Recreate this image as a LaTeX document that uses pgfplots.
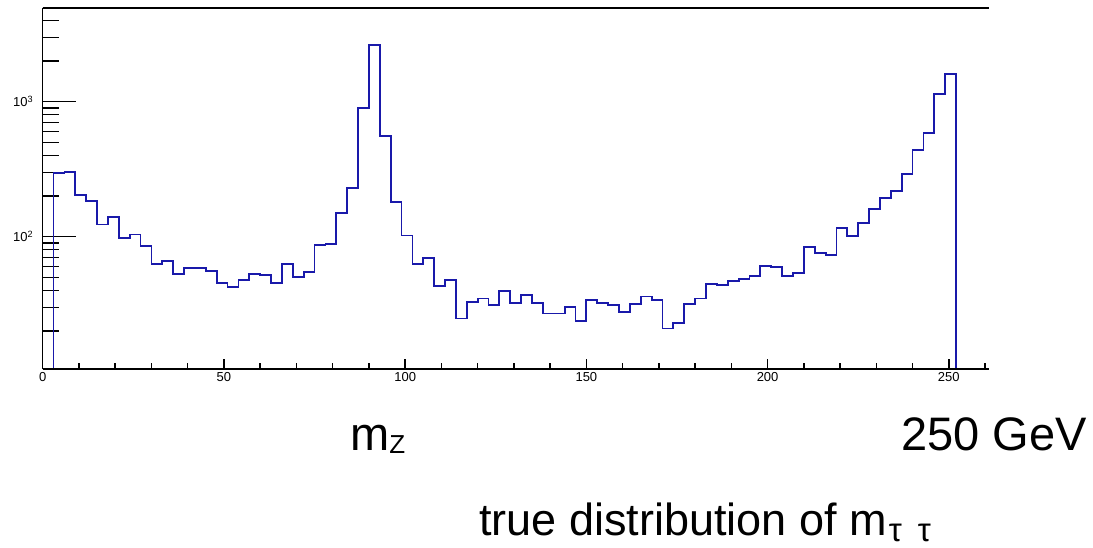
\documentclass[border=0pt]{standalone}
\usepackage{pgfplots}
\pgfplotsset{compat=1.18}
\usepackage{fontspec}
\setmainfont{Liberation Sans}
\definecolor{histblue}{RGB}{25,25,170}
\pgfplotsset{common/.style={width=946pt,height=361pt,scale only axis,
  at={(0pt,0pt)},anchor=south west,
  xmin=0,xmax=261,ymin=10.47,ymax=4945,
  axis x line*=box, axis y line*=left,
  axis line style={-,line width=1.6pt,black},
  tick align=inside, tick style={line width=1.4pt,black},
  ticklabel style={font=\fontsize{13}{15}\selectfont}}}
\begin{document}
\begin{tikzpicture}
\useasboundingbox (-42.7pt,-178pt) rectangle (1050.3pt,369pt);
\begin{axis}[ymode=log, common, xtick=\empty,
  ytick={100,1000}, yticklabels={10\textsuperscript{2},10\textsuperscript{3}},
  minor ytick={20,30,40,50,60,70,80,90,200,300,400,500,600,700,800,900,2000,3000,4000},
  major tick length=33pt, minor tick length=16.7pt, ytick pos=left,
  yticklabel style={xshift=-6pt}]
\addplot[const plot mark left, histblue, line width=1.8pt] coordinates {
(0,1) (3,296) (6,300) (9,204) (12,184) (15,123) (18,140) (21,98) (24,104) (27,85)
(30,63) (33,66) (36,52.6) (39,58.3) (42,58.3) (45,56) (48,45.6) (51,42.2) (54,47.8) (57,52.6)
(60,51.7) (63,45.1) (66,62.4) (69,50.2) (72,55) (75,87.3) (78,88.3) (81,150.6) (84,229) (87,893)
(90,2630) (93,557) (96,181) (99,102) (102,62.8) (105,69.5) (108,43.2) (111,48) (114,24.8) (117,32.8)
(120,34.9) (123,31.0) (126,39.8) (129,32.1) (132,37.0) (135,32.1) (138,27.0) (141,27.0) (144,30.0) (147,23.9)
(150,34.0) (153,32.1) (156,31.2) (159,27.8) (162,31.9) (165,36.1) (168,34.0) (171,20.9) (174,23.1) (177,31.9)
(180,34.9) (183,44.9) (186,43.9) (189,47.0) (192,48.3) (195,51.2) (198,61.0) (201,59.3) (204,51.2) (207,54.1)
(210,83.4) (213,76.1) (216,73.1) (219,116.6) (222,101) (225,125.6) (228,160) (231,193) (234,218) (237,291)
(240,438) (243,586) (246,1146) (249,1611) (252,1) (261,1)};
\end{axis}
\begin{axis}[ymode=log, common, ytick=\empty,
  xtick={0,50,100,150,200,250}, xticklabels={0,50,100,150,200,250},
  minor xtick={10,20,30,40,60,70,80,90,110,120,130,140,160,170,180,190,210,220,230,240,260},
  major tick length=10pt, minor tick length=5.7pt, xtick pos=bottom]
\end{axis}
\node[anchor=base west, inner sep=0, font=\fontsize{47}{50}\selectfont] at (307.3pt,-81pt) {m\raisebox{-3pt}{\fontsize{26}{26}\selectfont Z}};
\node[anchor=base west, inner sep=0, font=\fontsize{47}{50}\selectfont] at (858.3pt,-81pt) {250 GeV};
\node[anchor=base west, inner sep=0, font=\fontsize{45}{48}\selectfont] at (436.3pt,-166pt) {true distribution of m\hspace{2pt}\raisebox{-6pt}{\fontsize{33}{33}\selectfont τ\hspace{16pt}τ}};
\end{tikzpicture}
\end{document}
